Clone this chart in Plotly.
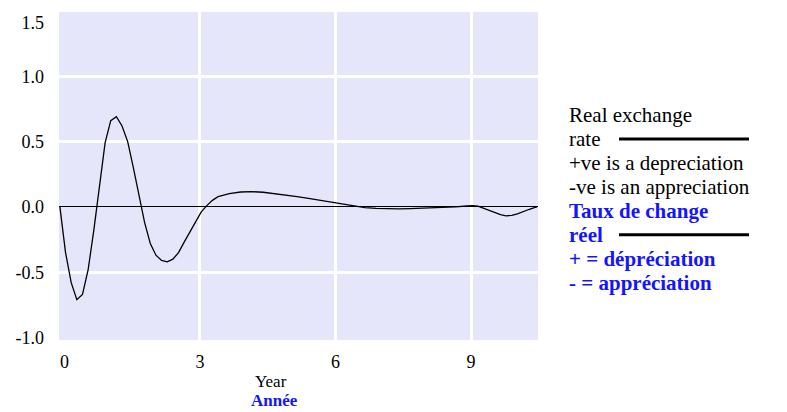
import plotly.graph_objects as go

# ---- data ----
years = [-0.1, 0.025, 0.15, 0.275, 0.4, 0.525, 0.65, 0.775, 0.9, 1.025, 1.15, 1.275, 1.4,
         1.525, 1.65, 1.775, 1.9, 2.025, 2.15, 2.275, 2.4, 2.525, 2.65, 2.775, 2.9, 3.025,
         3.15, 3.275, 3.4, 3.65, 3.9, 4.15, 4.4, 4.65, 4.9, 5.15, 5.4, 5.65, 5.9, 6.15,
         6.4, 6.65, 6.9, 7.15, 7.4, 7.65, 7.9, 8.15, 8.4, 8.65, 8.9, 9.025, 9.15, 9.275,
         9.4, 9.525, 9.65, 9.775, 9.9, 10.025, 10.15, 10.275, 10.4, 10.46]
real_exchange = [0.0, -0.35, -0.58, -0.71, -0.67, -0.48, -0.18, 0.16, 0.49, 0.66, 0.69, 0.62, 0.50,
                 0.30, 0.09, -0.12, -0.28, -0.37, -0.41, -0.42, -0.40, -0.35, -0.27, -0.19, -0.11, -0.04,
                 0.01, 0.05, 0.078, 0.102, 0.114, 0.117, 0.112, 0.102, 0.09, 0.078, 0.065, 0.05, 0.035, 0.02,
                 0.007, -0.005, -0.012, -0.015, -0.015, -0.013, -0.011, -0.008, -0.004, 0.0, 0.007, 0.01, 0.006, -0.01,
                 -0.028, -0.045, -0.06, -0.068, -0.065, -0.053, -0.035, -0.02, -0.006, 0.0]

x_tick_vals = [0, 3, 6, 9]
x_tick_text = ["0", "3", "6", "9"]
x_grid_vals = [3, 6, 9]
y_tick_vals = [-1.0, -0.5, 0.0, 0.5, 1.0, 1.412]
y_tick_text = ["-1.0", "-0.5", "0.0", "0.5", "1.0", "1.5"]
y_grid_vals = [-0.5, 0.5, 1.0]

legend_en = ["Real exchange", "rate", "+ve is a depreciation", "-ve is an appreciation"]
legend_fr = ["Taux de change", "réel", "+ = dépréciation", "- = appréciation"]
x_title_en = "Year"
x_title_fr = "Année"

# ---- layout geometry ----
W, H = 787, 412
L, R, T, B = 59, 538, 11.5, 340.5
BG = "#e6e6fa"
BLUE = "#1414ff"
SERIF = "Liberation Serif, Times New Roman, serif"


def px_x(p):
    return (p - L) / (R - L)


def px_y(p):
    return (B - p) / (B - T)


fig = go.Figure()
fig.add_trace(go.Scatter(x=years, y=real_exchange, mode="lines",
                         line=dict(color="black", width=1.3), showlegend=False,
                         hoverinfo="skip"))

fig.update_layout(
    width=W, height=H,
    margin=dict(l=L, r=W - R, t=T, b=H - B, pad=0),
    paper_bgcolor="white", plot_bgcolor=BG,
    font=dict(family=SERIF, size=18, color="black"),
    showlegend=False,
    xaxis=dict(range=[-0.12, 10.48], tickvals=x_tick_vals, ticktext=x_tick_text,
               showgrid=False, zeroline=False, showline=False, ticks="",
               ticklabelstandoff=9, tickfont=dict(size=18),
               minor=dict(tickvals=x_grid_vals, showgrid=True, gridcolor="white",
                          gridwidth=2.5, ticks="")),
    yaxis=dict(range=[-1.019, 1.492], tickvals=y_tick_vals, ticktext=y_tick_text,
               showgrid=False, zeroline=True, zerolinecolor="black", zerolinewidth=1.2,
               showline=False, ticks="", ticklabelstandoff=14, tickfont=dict(size=18),
               minor=dict(tickvals=y_grid_vals, showgrid=True, gridcolor="white",
                          gridwidth=2.5, ticks="")),
)

# axis titles
fig.add_annotation(text=x_title_en, xref="paper", yref="paper", x=px_x(271), y=px_y(382.5),
                   showarrow=False, xanchor="center", yanchor="middle",
                   font=dict(family=SERIF, size=17, color="black"))
fig.add_annotation(text="<b>" + x_title_fr + "</b>", xref="paper", yref="paper",
                   x=px_x(274), y=px_y(401.5), showarrow=False, xanchor="center",
                   yanchor="middle", font=dict(family=SERIF, size=17, color=BLUE))

# legend block
lines = [(t, "black", False) for t in legend_en] + [(t, BLUE, True) for t in legend_fr]
for i, (txt, col, bold) in enumerate(lines):
    yp = 115 + 24.0 * i
    fig.add_annotation(text=("<b>%s</b>" % txt) if bold else txt, xref="paper", yref="paper",
                       x=px_x(567), y=px_y(yp), showarrow=False, xanchor="left",
                       yanchor="middle", font=dict(family=SERIF, size=21, color=col))

for i in (1, 5):
    yp = 115 + 24.0 * i
    fig.add_shape(type="line", xref="paper", yref="paper", x0=px_x(619), x1=px_x(749),
                  y0=px_y(yp), y1=px_y(yp), line=dict(color="black", width=3))

fig.write_html("out.html")
